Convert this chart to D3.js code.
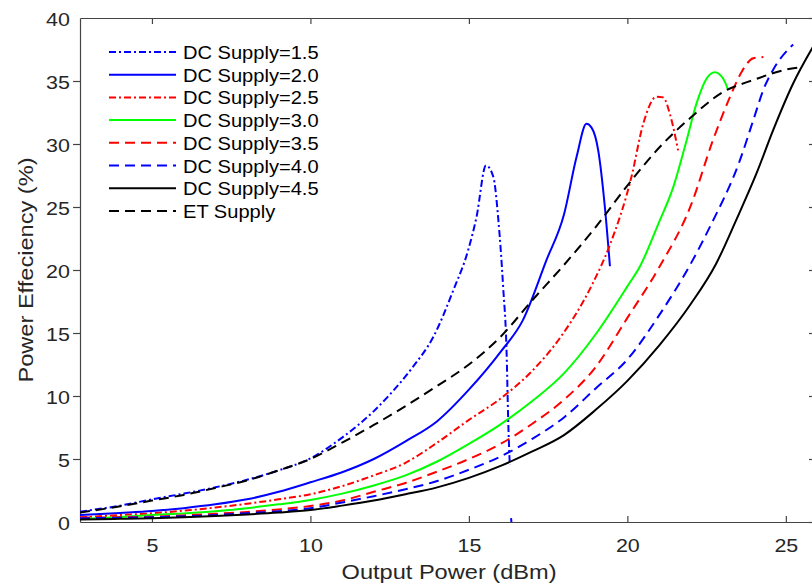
<!DOCTYPE html>
<html>
<head>
<meta charset="utf-8">
<script src="https://cdn.jsdelivr.net/npm/d3@7"></script>
<style>
    body { margin: 0; background: white; }
    svg { display: block; }
</style>
</head>
<body>
<svg id="chart" width="812" height="588"></svg>
<script>
// values
const xTicks = [5, 10, 15, 20, 25],
    yTicks = [0, 5, 10, 15, 20, 25, 30, 35, 40];

const dc15X = [2.73, 4, 5, 6, 7, 8, 9, 10, 11, 12, 12.5, 13.24, 13.88, 14.51, 14.98, 15.24, 15.54, 15.77, 15.93, 16.08, 16.19, 16.24, 16.29, null, 16.33, 16.38],
    dc15Y = [0.82, 1.3, 1.8, 2.25, 2.75, 3.35, 4.1, 5.05, 6.7, 8.8, 10.1, 12.33, 14.7, 18.4, 21.6, 24.2, 28.3, 27.4, 23.97, 18.68, 13.39, 8.1, 4.52, null, 0.3, -1];

const dc20X = [2.73, 4, 5, 6, 7, 8, 9, 10, 11, 12, 13, 14, 15, 16, 16.7, 17.45, 18.0, 18.4, 18.71, 18.87, 19.08, 19.29, 19.45],
    dc20Y = [0.55, 0.72, 0.87, 1.1, 1.4, 1.8, 2.4, 3.15, 3.95, 5.0, 6.4, 8.0, 10.5, 13.5, 16.0, 20.8, 24.4, 29.0, 31.6, 31.3, 29.5, 25.0, 20.3];

const dc25X = [2.73, 4, 5, 6, 7, 8, 9, 10, 11, 12, 13, 14, 15, 16, 17, 17.9, 18.9, 19.45, 20.13, 20.5, 20.92, 21.13, 21.34, 21.6],
    dc25Y = [0.37, 0.55, 0.69, 0.9, 1.15, 1.45, 1.8, 2.2, 2.85, 3.7, 4.7, 6.3, 8.1, 9.8, 12.0, 14.7, 18.9, 22.0, 27.4, 31.6, 33.75, 33.7, 32.4, 29.5];

const dc30X = [2.73, 4, 5, 6, 7, 8, 9, 10, 11, 12, 13, 14, 15, 16, 17, 18, 19, 20, 20.4, 21, 21.45, 21.87, 22.18, 22.5, 22.76, 23.02, 23.18],
    dc30Y = [0.24, 0.4, 0.55, 0.68, 0.85, 1.1, 1.4, 1.75, 2.25, 2.9, 3.7, 4.8, 6.2, 7.75, 9.6, 11.8, 14.9, 18.7, 20.3, 23.8, 26.6, 30.3, 33.2, 35.2, 35.7, 35.2, 34.3];

const dc35X = [2.73, 4, 5, 6, 7, 8, 9, 10, 11, 12, 13, 14, 15, 16, 17, 18, 19, 20, 21, 22, 22.7, 23.24, 23.6, 23.97, 24.29],
    dc35Y = [0.34, 0.38, 0.42, 0.52, 0.65, 0.8, 1.0, 1.27, 1.7, 2.4, 3.1, 4.0, 5.0, 6.2, 7.8, 9.7, 12.3, 16.2, 20.2, 25.1, 30.3, 33.75, 35.7, 36.8, 36.9];

const dc40X = [2.73, 4, 5, 6, 7, 8, 9, 10, 11, 12, 13, 14, 15, 16, 17, 18, 19, 20, 21, 22, 22.6, 23.55, 24, 24.29, 24.6, 25.23],
    dc40Y = [0.3, 0.33, 0.38, 0.45, 0.55, 0.7, 0.85, 1.1, 1.55, 2.05, 2.6, 3.25, 4.15, 5.2, 6.6, 8.3, 10.6, 12.9, 16.4, 20.5, 23.4, 28.7, 32.1, 34.3, 35.9, 37.9];

const dc45X = [2.73, 4, 5, 6, 7, 8, 9, 10, 11, 12, 13, 14, 15, 16, 17, 18, 19, 20, 21, 22, 22.8, 23.44, 24.08, 24.6, 25.23, 25.9],
    dc45Y = [0.2, 0.25, 0.3, 0.38, 0.48, 0.6, 0.75, 0.95, 1.3, 1.7, 2.2, 2.75, 3.5, 4.45, 5.6, 6.9, 8.9, 11.2, 14.0, 17.3, 20.5, 24.0, 27.7, 31.1, 34.8, 37.9];

const etX = [2.73, 4, 5, 6, 7, 8, 9, 10, 11, 12, 13, 14, 15, 16, 17, 18, 19, 20, 21, 22, 23, 24, 25, 25.5],
    etY = [0.75, 1.25, 1.7, 2.15, 2.7, 3.3, 4.1, 5.0, 6.3, 7.7, 9.2, 10.8, 12.5, 14.7, 17.6, 20.4, 23.4, 26.7, 29.7, 32.1, 34.1, 35.1, 35.9, 36.1];

const seriesNames = ['DC Supply=1.5', 'DC Supply=2.0', 'DC Supply=2.5', 'DC Supply=3.0',
        'DC Supply=3.5', 'DC Supply=4.0', 'DC Supply=4.5', 'ET Supply'],
    seriesX = [dc15X, dc20X, dc25X, dc30X, dc35X, dc40X, dc45X, etX],
    seriesY = [dc15Y, dc20Y, dc25Y, dc30Y, dc35Y, dc40Y, dc45Y, etY];

const seriesColors = ['#0000ff', '#0000ff', '#ff0000', '#00ff00', '#ff0000', '#0000ff', '#000000', '#000000'],
    seriesDash = ['dashdot', 'solid', 'dashdot', 'solid', 'dashed', 'dashed', 'solid', 'dashed'];

const dashes = { solid: null, dashed: '10,6', dashdot: '7,3,2,3' },
    axisColor = '#444',
    textColor = '#262626',
    font = '"Liberation Sans", Arial, Helvetica, sans-serif';

const plot = { left: 80, right: 815, top: 18, bottom: 522 };

const svg = d3.select('#chart');

const x = d3.scaleLinear().domain([2.73, 25.92]).range([plot.left, plot.right]),
    y = d3.scaleLinear().domain([0, 40]).range([plot.bottom, plot.top]);

svg.append('defs').append('clipPath')
    .attr('id', 'plot-clip')
    .append('rect')
    .attr('x', plot.left)
    .attr('y', plot.top)
    .attr('width', plot.right - plot.left)
    .attr('height', plot.bottom - plot.top);

function styleAxis(g) {
    g.select('.domain').attr('stroke', axisColor).attr('stroke-width', 1.2);
    g.selectAll('.tick line').attr('stroke', axisColor).attr('stroke-width', 1.2);
    g.selectAll('.tick text')
        .attr('fill', textColor)
        .attr('font-family', font)
        .attr('font-size', 19);
}

// bottom axis, ticks inside
const xAxisG = svg.append('g')
    .attr('transform', 'translate(0,' + plot.bottom + ')')
    .call(d3.axisBottom(x).tickValues(xTicks).tickSizeInner(-6).tickSizeOuter(0))
    .call(styleAxis);
xAxisG.selectAll('.tick text')
    .attr('y', 0)
    .attr('dy', 0)
    .attr('transform', 'translate(0,30) scale(1.13,1)');

// top axis, ticks inside, no labels
svg.append('g')
    .attr('transform', 'translate(0,' + plot.top + ')')
    .call(d3.axisTop(x).tickValues(xTicks).tickSizeInner(-6).tickSizeOuter(0).tickFormat(''))
    .call(styleAxis);

// left axis, ticks outside
const yAxisG = svg.append('g')
    .attr('transform', 'translate(' + plot.left + ',0)')
    .call(d3.axisLeft(y).tickValues(yTicks).tickSizeInner(7).tickSizeOuter(0))
    .call(styleAxis);
yAxisG.selectAll('.tick line')
    .attr('opacity', d => (d === 0 || d === 40) ? 0 : 1);
yAxisG.selectAll('.tick text')
    .attr('x', 0)
    .attr('dy', 0)
    .attr('text-anchor', 'end')
    .attr('transform', 'translate(-10,7) scale(1.13,1)');

// right axis, ticks inside
svg.append('g')
    .attr('transform', 'translate(' + plot.right + ',0)')
    .call(d3.axisRight(y).tickValues(yTicks).tickSizeInner(-6).tickSizeOuter(0).tickFormat(''))
    .call(styleAxis);

// axis titles
svg.append('text')
    .text('Output Power (dBm)')
    .attr('fill', textColor)
    .attr('font-family', font)
    .attr('font-size', 20)
    .attr('text-anchor', 'middle')
    .attr('transform', 'translate(449,579) scale(1.18,1)');

svg.append('text')
    .text('Power Effeciency (%)')
    .attr('fill', textColor)
    .attr('font-family', font)
    .attr('font-size', 20)
    .attr('text-anchor', 'middle')
    .attr('transform', 'translate(33,270) rotate(-90) scale(1.18,1)');

// curves
const line = d3.line()
    .defined(d => d[1] !== null)
    .x(d => x(d[0]))
    .y(d => y(d[1]))
    .curve(d3.curveMonotoneX);

const curves = svg.append('g').attr('clip-path', 'url(#plot-clip)');

seriesNames.forEach(function (name, i) {
    const pts = seriesX[i].map((v, j) => [v, seriesY[i][j]]);
    curves.append('path')
        .datum(pts)
        .attr('d', line)
        .attr('fill', 'none')
        .attr('stroke', seriesColors[i])
        .attr('stroke-width', 2)
        .attr('stroke-dasharray', dashes[seriesDash[i]]);
});

// legend (no box)
const legend = svg.append('g').attr('transform', 'translate(109,52)');

seriesNames.forEach(function (name, i) {
    const row = legend.append('g').attr('transform', 'translate(0,' + (i * 22.7) + ')');

    row.append('line')
        .attr('x1', 0)
        .attr('x2', 67)
        .attr('y1', 0)
        .attr('y2', 0)
        .attr('stroke', seriesColors[i])
        .attr('stroke-width', 2)
        .attr('stroke-dasharray', dashes[seriesDash[i]]);

    row.append('text')
        .text(name)
        .attr('fill', '#000')
        .attr('font-family', font)
        .attr('font-size', 18.6)
        .attr('transform', 'translate(74,7) scale(1.08,1)');
});
</script>
</body>
</html>
